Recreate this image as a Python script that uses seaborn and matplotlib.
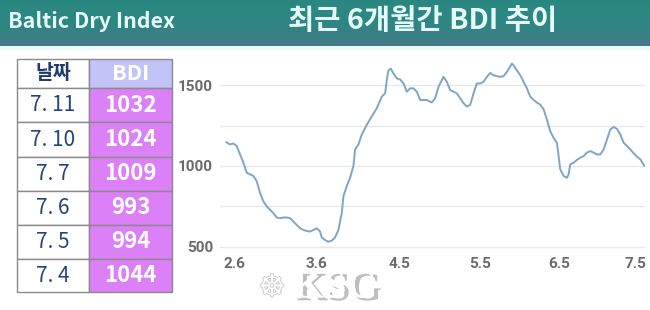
import numpy as np
import matplotlib
matplotlib.use("Agg")
import matplotlib.pyplot as plt
import seaborn as sns
from matplotlib.patches import Rectangle
from matplotlib.colors import LinearSegmentedColormap
import matplotlib.patheffects as pe

# ---------------- data ----------------
days = [0, 1.2, 2.2, 3.2, 4.2, 5.2, 6.2, 7.2, 8.2, 9.2, 10.2, 11.2, 12.2, 13.2, 14.2,
        15.2, 16.2, 17.2, 18.2, 19.2, 20.2, 21.2, 22.2, 23.2, 24.2, 25.2, 26.2, 27.2,
        28.2, 28.7, 29.7, 30.7, 31.7, 32.7, 33.7, 34.7, 35.2, 36.2, 37.2, 38.2, 38.7,
        39.7, 40.7, 42.2, 43.7, 45.2, 46.7, 47.7, 48.2, 48.7, 49.4, 50.2, 51.2, 52.2,
        53.2, 54.2, 55.2, 56.2, 57.2, 58.2, 59.2, 60.2, 61.7, 62.7, 63.7, 65.2, 66.2,
        67.2, 68.2, 69.2, 70.2, 71.2, 72.2, 73.2, 74.2, 75.2, 76.2, 77.2, 78.2, 79.2,
        80.2, 81.2, 82.2, 83.2, 84.2, 85.7, 86.2, 87.2, 88.2, 89.2, 90.2, 91.2, 92.2,
        93.2, 94.2, 95.2, 96.2, 97.2, 98.2, 99.2, 99.7, 100.2, 101.2, 102.2, 102.7,
        103.2, 104.2, 105.2, 106.2, 107.2, 108.2, 109.2, 110.2, 111.2, 112.2, 113.2,
        114.2, 115.2, 116.2, 117.2, 118.2, 119.2, 120.2, 121.2, 122.2, 123.2, 124.2, 125.4]
bdi = [1147, 1133, 1139, 1123, 1072, 1021, 958, 948, 938, 906, 833, 781, 750, 729, 708,
       681, 677, 681, 681, 677, 656, 635, 615, 604, 598, 594, 604, 615,
       594, 558, 542, 531, 538, 558, 604, 708, 813, 875, 927, 1000, 1102,
       1133, 1194, 1255, 1306, 1357, 1429, 1449, 1531, 1592, 1602, 1571, 1541, 1535,
       1510, 1459, 1480, 1480, 1459, 1408, 1408, 1408, 1392, 1418, 1490, 1551, 1520,
       1469, 1459, 1449, 1418, 1388, 1367, 1378, 1449, 1510, 1510, 1520, 1551, 1575,
       1561, 1555, 1551, 1555, 1582, 1633, 1622, 1592, 1561, 1520, 1480, 1429, 1408,
       1392, 1378, 1351, 1286, 1214, 1174, 1143, 1061, 979, 938, 927, 948,
       1010, 1020, 1037, 1051, 1061, 1082, 1092, 1082, 1071, 1071, 1102,
       1163, 1225, 1241, 1229, 1194, 1143, 1123, 1102, 1078, 1057, 1041, 1000]

x_tick_pos = [2.5, 27.1, 51.9, 76.3, 99.8, 122.7]
x_tick_labels = ["2.6", "3.6", "4.5", "5.5", "6.5", "7.5"]
grid_vals = [500, 750, 1000, 1250, 1500]
grid_labels = ["500", "", "1000", "", "1500"]

table_dates = ["7. 11", "7. 10", "7. 7", "7. 6", "7. 5", "7. 4"]
table_bdi = [1032, 1024, 1009, 993, 994, 1044]

left_title = "Baltic Dry Index"
main_title = "최근 6개월간 BDI 추이"

# ---------------- style ----------------
sns.set_theme(style="white")
plt.rcParams['font.family'] = ['Noto Sans CJK KR', 'DejaVu Sans']

fig = plt.figure(figsize=(6.5, 3.1), dpi=100)
fig.patch.set_facecolor("white")

bg = fig.add_axes([0, 0, 1, 1])
bg.set_xlim(0, 650)
bg.set_ylim(310, 0)
bg.axis("off")

# header band with vertical gradient
grad = np.linspace(0, 1, 64).reshape(-1, 1)
cmap = LinearSegmentedColormap.from_list("hdr", ["#2a8880", "#2e8682", "#457b87"])
bg.imshow(grad, extent=[0, 650, 46, 0], cmap=cmap, aspect="auto", zorder=0)
bg.add_patch(Rectangle((0, 46), 650, 4, facecolor="#eef9f9", edgecolor="none", zorder=0))
bg.set_xlim(0, 650)
bg.set_ylim(310, 0)

bg.text(8, 22, left_title, color="#e4fbf8", fontsize=15.4, fontweight="bold",
        va="center", ha="left")
bg.text(423, 21, main_title, color="#e4fbf8", fontsize=20.5, fontweight="semibold",
        va="center", ha="center")

# table
col_x = [17, 89, 172]
row_y = [59.3, 88.3, 122.3, 156.7, 190.7, 224.7, 258.7, 292.3]
edge = "#8a8a8a"
bg.add_patch(Rectangle((col_x[0], row_y[0]), col_x[1] - col_x[0], row_y[1] - row_y[0],
                       facecolor="white", edgecolor=edge, lw=1, zorder=2))
bg.add_patch(Rectangle((col_x[1], row_y[0]), col_x[2] - col_x[1], row_y[1] - row_y[0],
                       facecolor="#c2c3f7", edgecolor=edge, lw=1, zorder=2))
bg.text((col_x[0] + col_x[1]) / 2, (row_y[0] + row_y[1]) / 2, "날짜", color="#1f3c70",
        fontsize=14, fontweight="bold", ha="center", va="center", zorder=3)
bg.text((col_x[1] + col_x[2]) / 2, (row_y[0] + row_y[1]) / 2, "BDI", color="white",
        fontsize=15.5, fontweight="bold", ha="center", va="center", zorder=3)
for i, (d, v) in enumerate(zip(table_dates, table_bdi)):
    y0, y1 = row_y[i + 1], row_y[i + 2]
    bg.add_patch(Rectangle((col_x[0], y0), col_x[1] - col_x[0], y1 - y0,
                           facecolor="white", edgecolor=edge, lw=1, zorder=2))
    bg.add_patch(Rectangle((col_x[1], y0), col_x[2] - col_x[1], y1 - y0,
                           facecolor="#dc80f7", edgecolor=edge, lw=1, zorder=2))
    bg.text((col_x[0] + col_x[1]) / 2, (y0 + y1) / 2, d, color="#25457a",
            fontsize=15, fontweight="medium", ha="center", va="center", zorder=3)
    bg.text((col_x[1] + col_x[2]) / 2, (y0 + y1) / 2, str(v), color="white",
            fontsize=16, fontweight="bold", ha="center", va="center", zorder=3)

# watermark
bg.text(272, 288, "☸", family="DejaVu Sans", fontsize=22, color="white", ha="center",
        va="center", zorder=3,
        path_effects=[pe.withStroke(linewidth=1.2, foreground="#c8c8c8")])
bg.text(335, 288, "KSG", family="Liberation Serif", fontweight="bold", fontsize=29,
        color="white", ha="center", va="center", zorder=3,
        path_effects=[pe.withSimplePatchShadow(offset=(3, -2), shadow_rgbFace="#8a8a8a",
                                               alpha=0.55), pe.Normal()])

# main chart
ax = fig.add_axes([220 / 650, 60 / 310, 425 / 650, 200 / 310])
ax.set_facecolor("none")
sns.lineplot(x=days, y=bdi, ax=ax, color="#7ea5c6", linewidth=1.4)
ax.set_xlim(-1.8, 125.6)
ax.set_ylim(480, 1717)
ax.set_yticks(grid_vals)
ax.set_yticklabels(grid_labels)
ax.set_xticks(x_tick_pos)
ax.set_xticklabels(x_tick_labels)
ax.grid(axis="y", color="#e9e9e9", linewidth=1)
ax.grid(axis="x", visible=False)
for s in ax.spines.values():
    s.set_visible(False)
ax.tick_params(axis="y", length=0, pad=5, labelcolor="#6a6a6a")
ax.tick_params(axis="x", length=0, pad=5, labelcolor="#6a6a6a")
for lab in ax.get_yticklabels() + ax.get_xticklabels():
    lab.set_family(["Roboto", "DejaVu Sans"])
    lab.set_fontweight("bold")
    lab.set_fontsize(11)
ax.set_xlabel("")
ax.set_ylabel("")

fig.savefig("out.png", dpi=100, facecolor="white")
